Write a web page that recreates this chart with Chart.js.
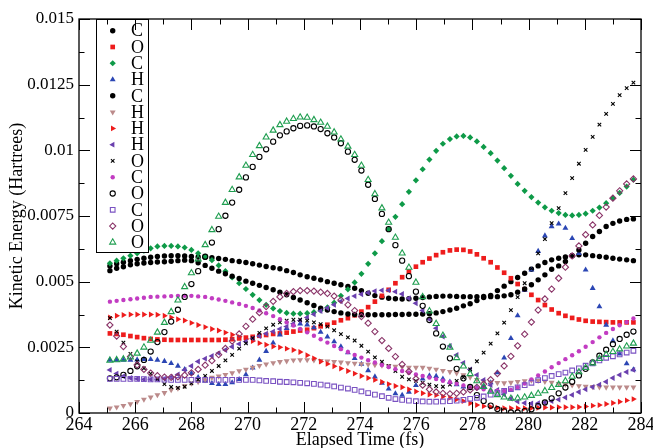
<!DOCTYPE html>
<html>
<head>
<meta charset="utf-8">
<title>Kinetic Energy vs Elapsed Time</title>
<script src="https://cdn.jsdelivr.net/npm/chart.js@4/dist/chart.umd.min.js"></script>
<style>
  html, body { margin: 0; padding: 0; background: #fff; }
  #wrap { width: 653px; height: 448px; }
</style>
</head>
<body>
<div id="wrap"><canvas id="keChart" width="653" height="448"></canvas></div>
<script>
// Sample times (fs), one per MD frame
const times = [
  265.10, 265.34, 265.58, 265.83, 266.07, 266.31, 266.55, 266.79, 267.04, 267.28, 267.52, 267.76, 268.00,
  268.24, 268.49, 268.73, 268.97, 269.21, 269.45, 269.70, 269.94, 270.18, 270.42, 270.66, 270.91, 271.15,
  271.39, 271.63, 271.87, 272.12, 272.36, 272.60, 272.84, 273.08, 273.32, 273.57, 273.81, 274.05, 274.29,
  274.53, 274.78, 275.02, 275.26, 275.50, 275.74, 275.99, 276.23, 276.47, 276.71, 276.95, 277.20, 277.44,
  277.68, 277.92, 278.16, 278.40, 278.65, 278.89, 279.13, 279.37, 279.61, 279.86, 280.10, 280.34, 280.58,
  280.82, 281.07, 281.31, 281.55, 281.79, 282.03, 282.28, 282.52, 282.76, 283.00, 283.24, 283.49, 283.73
];

// Kinetic energy per atom, in milli-Hartree
const c1Black = [
  5.60, 5.68, 5.74, 5.80, 5.85, 5.89, 5.93, 5.96, 5.98, 5.99, 5.99, 5.98, 5.96,
  5.94, 5.93, 5.91, 5.88, 5.85, 5.80, 5.77, 5.73, 5.68, 5.63, 5.58, 5.53, 5.49,
  5.42, 5.35, 5.26, 5.19, 5.13, 5.07, 5.00, 4.94, 4.88, 4.82, 4.75, 4.66, 4.56,
  4.47, 4.41, 4.37, 4.35, 4.34, 4.35, 4.37, 4.40, 4.42, 4.44, 4.45, 4.45, 4.44,
  4.43, 4.43, 4.43, 4.44, 4.48, 4.66, 4.83, 5.00, 5.16, 5.32, 5.47, 5.60, 5.73,
  5.83, 5.89, 5.94, 5.99, 6.02, 6.02, 5.99, 5.96, 5.93, 5.89, 5.86, 5.83, 5.80
];
const o2Red = [
  3.03, 3.01, 2.98, 2.93, 2.89, 2.85, 2.82, 2.80, 2.79, 2.78, 2.78, 2.78, 2.78,
  2.78, 2.78, 2.78, 2.78, 2.79, 2.81, 2.84, 2.87, 2.90, 2.94, 2.97, 3.01, 3.03,
  3.06, 3.10, 3.14, 3.17, 3.23, 3.30, 3.36, 3.44, 3.53, 3.61, 3.72, 3.86, 4.03,
  4.24, 4.46, 4.69, 4.94, 5.17, 5.38, 5.57, 5.74, 5.88, 6.01, 6.12, 6.19, 6.22,
  6.21, 6.15, 6.04, 5.89, 5.74, 5.54, 5.34, 5.13, 4.91, 4.71, 4.50, 4.30, 4.11,
  3.94, 3.80, 3.70, 3.62, 3.56, 3.51, 3.48, 3.47, 3.46, 3.45, 3.45, 3.45, 3.45
];
const c3Green = [
  5.70, 5.80, 5.89, 5.99, 6.08, 6.18, 6.27, 6.34, 6.36, 6.36, 6.34, 6.30, 6.21,
  6.08, 5.95, 5.82, 5.62, 5.40, 5.16, 4.94, 4.72, 4.50, 4.30, 4.12, 3.98, 3.88,
  3.81, 3.78, 3.78, 3.80, 3.84, 3.91, 4.02, 4.20, 4.46, 4.71, 4.97, 5.30, 5.68,
  6.08, 6.54, 7.00, 7.47, 7.95, 8.42, 8.86, 9.28, 9.65, 9.98, 10.25, 10.43, 10.53,
  10.55, 10.49, 10.34, 10.13, 9.89, 9.61, 9.32, 9.03, 8.72, 8.46, 8.22, 8.01, 7.83,
  7.70, 7.61, 7.54, 7.52, 7.54, 7.59, 7.70, 7.82, 7.99, 8.18, 8.38, 8.62, 8.88
];
const h4Blue = [
  2.02, 2.02, 2.02, 2.02, 2.03, 2.04, 2.04, 2.02, 1.97, 1.89, 1.79, 1.66, 1.51,
  1.36, 1.23, 1.13, 1.09, 1.09, 1.16, 1.28, 1.46, 1.72, 2.02, 2.35, 2.67, 2.98,
  3.22, 3.36, 3.40, 3.36, 3.25, 3.08, 2.90, 2.72, 2.53, 2.30, 2.08, 1.86, 1.62,
  1.38, 1.14, 0.92, 0.74, 0.68, 0.80, 1.05, 1.30, 1.42, 1.40, 1.30, 1.18, 1.08,
  1.00, 0.96, 0.96, 1.02, 1.16, 1.54, 2.10, 2.84, 3.71, 4.68, 5.45, 6.16, 6.75,
  7.10, 7.20, 7.04, 6.65, 6.08, 5.45, 4.75, 4.05, 3.35, 2.75, 2.25, 1.88, 1.65
];
const c5Black = [
  5.42, 5.51, 5.57, 5.64, 5.68, 5.71, 5.73, 5.75, 5.76, 5.78, 5.80, 5.82, 5.80,
  5.72, 5.62, 5.51, 5.40, 5.30, 5.21, 5.12, 5.02, 4.94, 4.86, 4.78, 4.69, 4.60,
  4.50, 4.40, 4.30, 4.20, 4.09, 3.99, 3.92, 3.86, 3.81, 3.77, 3.75, 3.74, 3.74,
  3.74, 3.74, 3.74, 3.75, 3.75, 3.76, 3.76, 3.77, 3.78, 3.81, 3.86, 3.92, 3.99,
  4.08, 4.16, 4.28, 4.40, 4.43, 4.43, 4.46, 4.50, 4.60, 4.72, 4.88, 5.07, 5.26,
  5.47, 5.60, 5.77, 5.99, 6.21, 6.46, 6.72, 6.91, 7.10, 7.22, 7.31, 7.37, 7.39
];
const h6Brown = [
  0.18, 0.22, 0.28, 0.34, 0.43, 0.52, 0.60, 0.69, 0.77, 0.88, 0.94, 1.03, 1.13,
  1.19, 1.26, 1.35, 1.40, 1.46, 1.52, 1.60, 1.66, 1.73, 1.80, 1.86, 1.91, 1.95,
  1.98, 2.01, 2.02, 2.02, 2.01, 1.99, 1.97, 1.95, 1.93, 1.91, 1.89, 1.87, 1.85,
  1.83, 1.81, 1.79, 1.77, 1.75, 1.73, 1.73, 1.73, 1.70, 1.66, 1.61, 1.57, 1.52,
  1.45, 1.36, 1.27, 1.20, 1.16, 1.15, 1.14, 1.16, 1.19, 1.22, 1.24, 1.23, 1.20,
  1.16, 1.12, 1.09, 1.06, 1.03, 1.01, 1.00, 0.99, 0.98, 0.98, 0.98, 0.98, 0.98
];
const h7Red = [
  3.64, 3.70, 3.73, 3.75, 3.75, 3.75, 3.75, 3.74, 3.70, 3.64, 3.57, 3.52, 3.43,
  3.35, 3.27, 3.20, 3.14, 3.06, 2.98, 2.90, 2.82, 2.74, 2.66, 2.60, 2.53, 2.50,
  2.45, 2.40, 2.32, 2.20, 2.08, 1.96, 1.87, 1.78, 1.69, 1.60, 1.50, 1.41, 1.33,
  1.26, 1.18, 1.10, 1.03, 0.98, 0.90, 0.82, 0.75, 0.70, 0.68, 0.63, 0.58, 0.52,
  0.45, 0.37, 0.30, 0.26, 0.23, 0.20, 0.18, 0.18, 0.18, 0.18, 0.19, 0.20, 0.21,
  0.21, 0.22, 0.22, 0.22, 0.23, 0.25, 0.28, 0.30, 0.34, 0.38, 0.43, 0.48, 0.53
];
const h8Violet = [
  1.64, 1.50, 1.40, 1.33, 1.30, 1.28, 1.28, 1.28, 1.30, 1.36, 1.47, 1.64, 1.79,
  1.96, 2.07, 2.17, 2.28, 2.40, 2.52, 2.63, 2.72, 2.84, 2.93, 3.02, 3.10, 3.20,
  3.29, 3.40, 3.52, 3.64, 3.76, 3.88, 4.00, 4.12, 4.25, 4.36, 4.45, 4.52, 4.58,
  4.64, 4.67, 4.67, 4.62, 4.53, 4.37, 4.18, 3.90, 3.57, 3.23, 2.91, 2.55, 2.21,
  1.91, 1.66, 1.45, 1.26, 1.06, 0.88, 0.70, 0.55, 0.44, 0.38, 0.36, 0.37, 0.40,
  0.45, 0.51, 0.59, 0.69, 0.80, 0.90, 0.99, 1.08, 1.19, 1.33, 1.45, 1.56, 1.64
];
const o9Cross = [
  3.61, 3.10, 2.68, 2.25, 1.96, 1.70, 1.50, 1.30, 1.10, 0.99, 0.96, 1.00, 1.13,
  1.27, 1.41, 1.60, 1.79, 2.00, 2.21, 2.45, 2.65, 2.85, 3.05, 3.22, 3.36, 3.45,
  3.52, 3.55, 3.55, 3.52, 3.45, 3.38, 3.29, 3.15, 3.00, 2.88, 2.76, 2.56, 2.34,
  2.12, 1.95, 1.78, 1.60, 1.38, 1.28, 1.22, 1.15, 1.08, 1.02, 1.00, 1.08, 1.22,
  1.36, 1.66, 1.97, 2.30, 2.64, 3.03, 3.44, 3.92, 4.41, 4.94, 5.50, 6.08, 6.62,
  7.23, 7.80, 8.37, 8.94, 9.49, 10.02, 10.51, 10.98, 11.39, 11.77, 12.10, 12.37, 12.58
];
const c10Magenta = [
  4.24, 4.27, 4.30, 4.33, 4.36, 4.39, 4.42, 4.43, 4.44, 4.45, 4.46, 4.46, 4.46,
  4.44, 4.42, 4.37, 4.32, 4.27, 4.21, 4.15, 4.08, 4.00, 3.90, 3.80, 3.69, 3.57,
  3.45, 3.33, 3.20, 3.07, 2.94, 2.81, 2.68, 2.55, 2.43, 2.32, 2.21, 2.11, 2.01,
  1.92, 1.83, 1.75, 1.67, 1.60, 1.53, 1.47, 1.41, 1.35, 1.29, 1.23, 1.17, 1.11,
  1.05, 0.99, 0.94, 0.90, 0.86, 0.84, 0.84, 0.88, 0.98, 1.12, 1.28, 1.43, 1.58,
  1.74, 1.90, 2.05, 2.20, 2.35, 2.52, 2.70, 2.88, 3.05, 3.20, 3.34, 3.46, 3.60
];
const o11Ring = [
  1.32, 1.36, 1.45, 1.60, 1.78, 2.02, 2.34, 2.70, 3.08, 3.48, 3.93, 4.42, 4.91,
  5.40, 5.95, 6.49, 7.00, 7.51, 8.01, 8.50, 8.97, 9.37, 9.75, 10.04, 10.33, 10.57,
  10.72, 10.84, 10.93, 10.95, 10.91, 10.81, 10.65, 10.49, 10.27, 9.95, 9.64, 9.23, 8.69,
  8.15, 7.58, 7.00, 6.39, 5.80, 5.21, 4.62, 4.08, 3.54, 3.03, 2.53, 2.08, 1.68,
  1.32, 0.99, 0.68, 0.46, 0.28, 0.15, 0.06, 0.02, 0.02, 0.07, 0.14, 0.26, 0.40,
  0.56, 0.75, 0.97, 1.19, 1.43, 1.68, 1.93, 2.18, 2.41, 2.62, 2.82, 2.98, 3.10
];
const c12Square = [
  1.30, 1.30, 1.30, 1.30, 1.30, 1.29, 1.28, 1.28, 1.27, 1.26, 1.26, 1.26, 1.26,
  1.26, 1.26, 1.26, 1.26, 1.26, 1.26, 1.26, 1.26, 1.26, 1.24, 1.22, 1.21, 1.19,
  1.18, 1.17, 1.15, 1.13, 1.11, 1.08, 1.05, 1.01, 0.97, 0.93, 0.88, 0.82, 0.76,
  0.70, 0.64, 0.58, 0.53, 0.50, 0.47, 0.45, 0.44, 0.43, 0.43, 0.44, 0.45, 0.47,
  0.50, 0.54, 0.58, 0.63, 0.70, 0.77, 0.84, 0.91, 0.98, 1.06, 1.15, 1.25, 1.33,
  1.41, 1.48, 1.54, 1.62, 1.70, 1.80, 1.89, 2.00, 2.10, 2.16, 2.23, 2.30, 2.37
];
const o13Diamond = [
  3.35, 2.93, 2.53, 2.15, 1.83, 1.66, 1.52, 1.42, 1.37, 1.36, 1.38, 1.44, 1.53,
  1.66, 1.82, 1.99, 2.22, 2.46, 2.74, 3.01, 3.30, 3.57, 3.82, 4.05, 4.25, 4.42,
  4.55, 4.62, 4.66, 4.66, 4.64, 4.60, 4.55, 4.45, 4.30, 4.12, 3.90, 3.67, 3.42,
  3.10, 2.76, 2.46, 2.15, 1.85, 1.58, 1.30, 1.06, 0.90, 0.80, 0.75, 0.73, 0.75,
  0.80, 0.88, 0.98, 1.10, 1.27, 1.50, 1.79, 2.16, 2.56, 3.00, 3.46, 3.92, 4.34,
  4.72, 5.13, 5.55, 5.98, 6.36, 6.79, 7.16, 7.52, 7.84, 8.18, 8.46, 8.72, 8.91
];
const o14Triangle = [
  2.00, 2.02, 2.05, 2.12, 2.27, 2.50, 2.76, 3.07, 3.44, 3.85, 4.29, 4.80, 5.33,
  5.86, 6.40, 6.97, 7.48, 8.01, 8.50, 8.98, 9.42, 9.83, 10.17, 10.50, 10.76, 10.97,
  11.10, 11.20, 11.26, 11.25, 11.16, 11.06, 10.91, 10.69, 10.42, 10.15, 9.83, 9.42, 8.88,
  8.34, 7.80, 7.25, 6.68, 6.08, 5.54, 4.97, 4.42, 3.88, 3.40, 2.95, 2.50, 2.10,
  1.78, 1.49, 1.22, 1.00, 0.82, 0.69, 0.60, 0.55, 0.56, 0.60, 0.66, 0.74, 0.84,
  0.96, 1.08, 1.22, 1.39, 1.56, 1.72, 1.90, 2.07, 2.22, 2.33, 2.43, 2.54, 2.65
];

const atomLabels = ['C', 'O', 'C', 'H', 'C', 'H', 'H', 'H', 'O', 'C', 'O', 'C', 'O', 'O'];
const seriesValues = [c1Black, o2Red, c3Green, h4Blue, c5Black, h6Brown, h7Red, h8Violet,
                      o9Cross, c10Magenta, o11Ring, c12Square, o13Diamond, o14Triangle];

const xTickValues = [264, 266, 268, 270, 272, 274, 276, 278, 280, 282, 284];
const yTickValues = [0, 0.0025, 0.005, 0.0075, 0.01, 0.0125, 0.015];
const yTickLabels = ['0', '0.0025', '0.005', '0.0075', '0.01', '0.0125', '0.015'];

const MILLI = 1e-3;

// symbol look for each set: shape, rotation, size, colour, filled or hollow
const symbols = [
  { style: 'circle',    rot: 0,   r: 2.7, color: '#000000', fill: true },
  { style: 'rect',      rot: 0,   r: 3.3, color: '#ee1c1c', fill: true },
  { style: 'rectRot',   rot: 0,   r: 3.1, color: '#0e9a48', fill: true },
  { style: 'triangle',  rot: 0,   r: 3.4, color: '#2b46b4', fill: true },
  { style: 'circle',    rot: 0,   r: 2.7, color: '#000000', fill: true },
  { style: 'triangle',  rot: 180, r: 3.4, color: '#bb8a8a', fill: true },
  { style: 'triangle',  rot: 90,  r: 3.4, color: '#ee1c1c', fill: true },
  { style: 'triangle',  rot: 270, r: 3.4, color: '#6a3fae', fill: true },
  { style: 'crossRot',  rot: 0,   r: 2.5, color: '#000000', fill: false },
  { style: 'circle',    rot: 0,   r: 2.2, color: '#c23cc2', fill: true },
  { style: 'circle',    rot: 0,   r: 2.6, color: '#000000', fill: false },
  { style: 'rect',      rot: 0,   r: 3.3, color: '#7a52c2', fill: false },
  { style: 'rectRot',   rot: 0,   r: 3.1, color: '#8a3468', fill: false },
  { style: 'triangle',  rot: 0,   r: 3.5, color: '#1f9e50', fill: false }
];

Chart.defaults.font.family = '"Liberation Serif", "Times New Roman", serif';
Chart.defaults.color = '#000';

const datasets = seriesValues.map((vals, i) => {
  const s = symbols[i];
  return {
    label: atomLabels[i],
    data: times.map((t, j) => ({ x: t, y: vals[j] * MILLI })),
    showLine: false,
    pointStyle: s.style,
    rotation: s.rot,
    pointRadius: s.r,
    pointBackgroundColor: s.fill ? s.color : 'rgba(0,0,0,0)',
    pointBorderColor: s.color,
    pointBorderWidth: s.fill ? 0 : 1.1,
    order: seriesValues.length - 1 - i
  };
});

// closed frame with inward major/minor ticks on all four sides
const frameTicks = {
  id: 'frameTicks',
  afterDraw(chart) {
    const { ctx, chartArea: a, scales: { x, y } } = chart;
    const major = 11, minor = 5.5;
    ctx.save();
    ctx.strokeStyle = '#000';
    ctx.lineWidth = 1;
    const seg = (x1, y1, x2, y2) => {
      ctx.beginPath();
      ctx.moveTo(x1, y1);
      ctx.lineTo(x2, y2);
      ctx.stroke();
    };
    xTickValues.forEach((v, i) => {
      const px = Math.round(x.getPixelForValue(v)) + 0.5;
      seg(px, a.bottom, px, a.bottom - major);
      seg(px, a.top, px, a.top + major);
      if (i < xTickValues.length - 1) {
        const m = Math.round(x.getPixelForValue((v + xTickValues[i + 1]) / 2)) + 0.5;
        seg(m, a.bottom, m, a.bottom - minor);
        seg(m, a.top, m, a.top + minor);
      }
    });
    yTickValues.forEach((v, i) => {
      const py = Math.round(y.getPixelForValue(v)) + 0.5;
      seg(a.left, py, a.left + major, py);
      seg(a.right, py, a.right - major, py);
      if (i < yTickValues.length - 1) {
        const m = Math.round(y.getPixelForValue((v + yTickValues[i + 1]) / 2)) + 0.5;
        seg(a.left, m, a.left + minor, m);
        seg(a.right, m, a.right - minor, m);
      }
    });
    ctx.lineWidth = 1.3;
    ctx.strokeRect(a.left, a.top, a.right - a.left, a.bottom - a.top);
    ctx.restore();
  }
};

// boxed legend hanging from the top-left of the plot
const legendBox = {
  id: 'legendBox',
  afterDatasetsDraw(chart) {
    const { ctx, chartArea: a } = chart;
    const left = a.left + 17, right = a.left + 69;
    const top = a.top, bottom = a.top + 233;
    const rowH = 16.28;
    ctx.save();
    ctx.fillStyle = '#fff';
    ctx.fillRect(left, top, right - left, bottom - top);
    ctx.strokeStyle = '#000';
    ctx.lineWidth = 1;
    ctx.strokeRect(left + 0.5, top + 0.5, right - left, bottom - top);
    ctx.font = '18px "Liberation Serif", "Times New Roman", serif';
    ctx.textBaseline = 'middle';
    ctx.textAlign = 'left';
    chart.data.datasets.forEach((ds, i) => {
      const cy = top + 11.7 + i * rowH;
      ctx.fillStyle = ds.pointBackgroundColor;
      ctx.strokeStyle = ds.pointBorderColor;
      ctx.lineWidth = ds.pointBorderWidth;
      Chart.helpers.drawPoint(ctx, {
        pointStyle: ds.pointStyle,
        rotation: ds.rotation,
        radius: ds.pointRadius,
        borderWidth: ds.pointBorderWidth
      }, left + 16.7, cy);
      ctx.fillStyle = '#000';
      ctx.fillText(ds.label, left + 35, cy + 1);
    });
    ctx.restore();
  }
};

new Chart(document.getElementById('keChart'), {
  type: 'scatter',
  data: { datasets },
  options: {
    responsive: false,
    animation: false,
    devicePixelRatio: 1,
    layout: { padding: { left: 0, right: 12, top: 19, bottom: 0 }, autoPadding: false },
    plugins: { legend: { display: false }, tooltip: { enabled: false } },
    scales: {
      x: {
        type: 'linear',
        min: 264,
        max: 284,
        afterBuildTicks: s => { s.ticks = xTickValues.map(v => ({ value: v })); },
        afterFit: s => { s.height = 35; s.paddingLeft = 0; s.paddingRight = 0; },
        grid: { display: false, drawTicks: false },
        border: { display: false },
        ticks: {
          padding: 1,
          autoSkip: false,
          maxRotation: 0,
          font: { size: 18 },
          callback: v => String(v)
        },
        title: {
          display: true,
          text: 'Elapsed Time (fs)',
          font: { size: 18 },
          padding: { top: 0, bottom: -3 }
        }
      },
      y: {
        type: 'linear',
        min: 0,
        max: 0.015,
        afterBuildTicks: s => { s.ticks = yTickValues.map(v => ({ value: v })); },
        afterFit: s => { s.width = 79; s.paddingTop = 0; s.paddingBottom = 0; },
        grid: { display: false, drawTicks: false },
        border: { display: false },
        ticks: {
          padding: 5,
          autoSkip: false,
          font: { size: 17 },
          callback: (v, i) => yTickLabels[i]
        },
        title: {
          display: true,
          text: 'Kinetic Energy (Hartrees)',
          font: { size: 18 },
          padding: { top: 6, bottom: 0 }
        }
      }
    }
  },
  plugins: [legendBox, frameTicks]
});
</script>
</body>
</html>
